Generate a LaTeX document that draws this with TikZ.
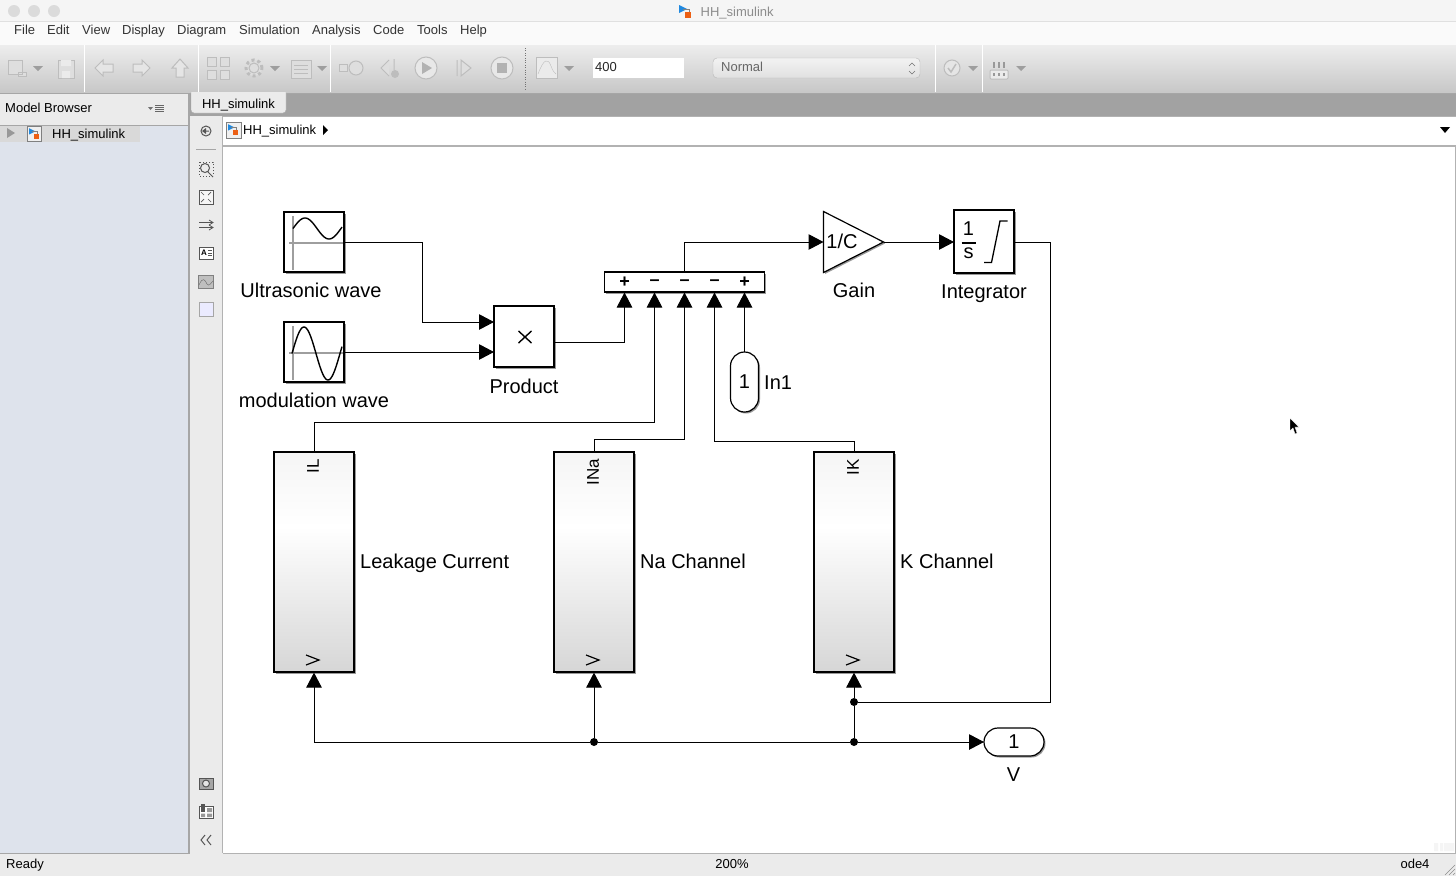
\documentclass[tikz,border=0pt]{standalone}
\usepackage{fontspec}
\setmainfont{Liberation Sans}
\usetikzlibrary{arrows.meta,shadows,shapes.geometric}
\definecolor{barline}{HTML}{A6A6A6}
\definecolor{paneface}{HTML}{EBEBEB}
\definecolor{treeface}{HTML}{DEE3EC}
\definecolor{tabstrip}{HTML}{A2A2A2}
\definecolor{iconline}{HTML}{BDBDBD}
\definecolor{iconface}{HTML}{DEDEDE}
\definecolor{palette}{HTML}{555555}
\pgfdeclareverticalshading{blockfade}{100bp}{rgb(0bp)=(.84,.84,.84); rgb(25bp)=(.84,.84,.84); rgb(58bp)=(1,1,1); rgb(75bp)=(.96,.96,.96); rgb(100bp)=(.96,.96,.96)}
\tikzset{
	block/.style={draw,fill=white,line width=1.2pt,inner sep=0pt,outer sep=0pt,drop shadow={shadow xshift=1.5pt,shadow yshift=-1.5pt,opacity=.4,fill=black}},
	subsys/.style={block,shading=blockfade,minimum width=80pt,minimum height=220pt},
	wire/.style={line width=1pt},
	face/.style={font=\fontsize{20pt}{22pt}\selectfont,inner sep=0pt},
	label/.style={face,text height=14.4pt,text depth=4.2pt},
	portname/.style={font=\fontsize{17pt}{19pt}\selectfont,inner sep=0pt,text height=12.5pt,text depth=0pt},
	ui/.style={font=\fontsize{13pt}{15pt}\selectfont,inner sep=0pt,text height=10pt,text depth=3pt},
	dot/.style={circle,fill=black,inner sep=0pt,minimum size=8pt},
	toolicon/.style={draw=iconline,fill=iconface,line width=1pt},
	palicon/.style={draw=palette,line width=1pt},
	modelmark/.pic={
		\fill[blue!45!cyan!75!gray](-5,-6)--(3,-2)--(-5,2)--cycle;
		\draw[gray](-1,-2)-|(5,2);
		\fill[orange!70!red!85!gray](1,1)rectangle(7,7);
	},
}
\begin{document}
\begin{tikzpicture}[x=1pt,y=-1pt,>={Triangle[length=15pt,width=15.5pt]}]
	\useasboundingbox(0,0)rectangle(1456,876);
	% window chrome
	\fill[white](0,0)rectangle(1456,876);
	\fill[black!4](0,0)rectangle(1456,22);
	\draw[black!12](0,21.5)--(1456,21.5);
	\fill[black!2](0,22)rectangle(1456,45);
	\shade[top color=black!7,bottom color=black!22](0,45)rectangle(1456,93);
	\fill[tabstrip](190,94)rectangle(1456,116);
	\draw[barline,line width=1.5pt](0,93.5)--(1456,93.5);
	\foreach \px in {14,34,54}\fill[black!14](\px,11)circle(6pt);
	\pic at (684,11) {modelmark};
	\node(wintitle)[ui,anchor=west,text=black!45]at(700.5,13){HH\_simulink};
	\foreach \px/\menu in {14/File,47/Edit,82/View,122/Display,177/Diagram,239/Simulation,312/Analysis,373/Code,417/Tools,460/Help}
		\node(menu\menu)[ui,anchor=west,text=black!80]at(\px,30.5){\menu};
	% toolbar
	\foreach \px in {84.5,198.5,330.5,935.5,982.5}\draw[white,line width=1pt](\px,45)--(\px,92);
	\draw[black!55,dotted](525.5,48)--(525.5,91);
	\foreach \px in {38,275,322,569,973,1021}\fill[black!38](\px-5,66)--(\px+5,66)--(\px,71)--cycle;
	\draw[toolicon](8,60)rectangle(22,74) (18,72)rectangle(26,76);
	\draw[toolicon](58,60)rectangle(74,78);
	\fill[black!8](61,60)rectangle(71,66) (62,71)rectangle(70,78);
	\draw[toolicon,fill=black!10](95,68)--(103,60)--(103,64)--(113,64)--(113,72)--(103,72)--(103,76)--cycle;
	\draw[toolicon,fill=black!10](150,68)--(142,60)--(142,64)--(133,64)--(133,72)--(142,72)--(142,76)--cycle;
	\draw[toolicon,fill=black!10](180,59)--(188,68)--(184,68)--(184,77)--(176,77)--(176,68)--(172,68)--cycle;
	\foreach \px/\py in {207/57,220/57,207/70,220/70}\draw[toolicon](\px,\py)rectangle(\px+9,\py+9);
	\draw[toolicon,dashed,line width=3pt](254,68)circle(8pt);
	\draw[toolicon](254,68)circle(5pt);
	\draw[toolicon](291,60)rectangle(311,78);
	\foreach \py in {65,69,73}\draw[iconline](294,\py)--(308,\py);
	\draw[toolicon](339,64)rectangle(347,71);
	\draw[toolicon](356,68)circle(7pt);
	\draw[toolicon](389,60)--(381,68)--(389,76) (394,59)--(394,70);
	\fill[iconline](395,74)circle(4pt);
	\draw[toolicon,fill=black!9](426,68)circle(11pt);
	\fill[black!30](422,62)--(432,68)--(422,74)--cycle;
	\draw[toolicon](457,60)--(457,76) (461,60)--(471,68)--(461,76)--cycle;
	\draw[toolicon,fill=black!9](502,68)circle(11pt);
	\fill[black!30](497,63)rectangle(507,73);
	\draw[toolicon,fill=black!8](536,57)rectangle(557,78);
	\draw[iconline](538,74)..controls(544,58)and(548,58)..(551,66)..controls(553,71)..(556,74);
	\node(stoptime)[ui,anchor=west,fill=white,text width=89pt,inner xsep=1pt,minimum height=20pt,text=black!85]at(593,68){\hspace{1pt}400};
	\draw[black!28,rounded corners=4pt,top color=black!5,bottom color=black!12](713,58)rectangle(920,78);
	\node(simmode)[ui,anchor=west,text=black!60]at(721,68){Normal};
	\draw[black!55](909,66)--(912,63)--(915,66) (909,71)--(912,74)--(915,71);
	\draw[toolicon,fill=black!10](952,68)circle(8pt);
	\draw[iconline,line width=1.5pt](948,68)--(951,72)--(956,64);
	\draw[toolicon,fill=black!8,rounded corners=1pt](990,70)rectangle(1008,79);
	\foreach \px in {994,999,1004}{\fill[black!40](\px-.8,62)rectangle(\px+.8,68);\fill[black!40](\px-1,73)rectangle(\px+1,76);}
	% browser pane
	\fill[paneface](0,94)rectangle(190,125);
	\fill[treeface](0,125)rectangle(190,853);
	\fill[black!15](0,126)rectangle(140,142);
	\draw[barline](0,125)--(190,125);
	\draw[barline,line width=2pt](189,94)--(189,853);
	\node(browser)[ui,anchor=west]at(5,108.5){Model Browser};
	\fill[black!55](148,107)--(153,107)--(150.5,110)--cycle;
	\foreach \py in {105,107,109,111}\draw[black!60,line width=.7pt](155,\py)--(164,\py);
	\fill[black!40](7,128)--(15,133)--(7,138)--cycle;
	\draw[black!50,fill=black!6](27,126.5)rectangle(41,141.5);
	\pic at (33,133) [scale=.8] {modelmark};
	\node(treeroot)[ui,anchor=west]at(52,134.5){HH\_simulink};
	% tab and address bar
	\draw[barline,fill=paneface,rounded corners=3pt](191,92)--(191,113)--(286,113)--(286,92);
	\node(tabname)[ui,anchor=center]at(238.5,104.8){HH\_simulink};
	\fill[paneface](190,116)rectangle(223,853);
	\draw[black!30](222.5,116)--(222.5,853);
	\draw[black!30,line width=1.5pt](223,146)--(1456,146);
	\draw[black!30](223,116)--(1456,116);
	\draw[black!50,fill=black!6](226,122)rectangle(241,138);
	\pic at (232,129) [scale=.8] {modelmark};
	\node(crumb)[ui,anchor=west]at(243,130.8){HH\_simulink};
	\fill[black](323,125)--(328,130)--(323,135)--cycle;
	\fill[black](1440,127)--(1450,127)--(1445,133)--cycle;
	% palette
	\draw[palicon](206,131)circle(5pt) (209,131)--(204,131);
	\fill[palette](202,131)--(206,128)--(206,134)--cycle;
	\draw[black!35](196,149.5)--(216,149.5);
	\draw[palicon,dotted,line width=.7pt](199,162)rectangle(213,176);
	\draw[palicon](205,168)circle(4.5pt) (208,172)--(213,177);
	\draw[palicon,fill=black!4](199,190)rectangle(213,204);
	\draw[palicon,line width=.7pt](201,192)--(204,195) (211,192)--(208,195) (201,202)--(204,199) (211,202)--(208,199);
	\draw[palicon](199,222.5)--(212,222.5) (199,227.5)--(212,227.5);
	\draw[palicon,line width=.8pt](209,220)--(213,222.5)--(209,225) (209,225)--(213,227.5)--(209,230);
	\draw[palicon,fill=white](199,247)rectangle(213,259);
	\node(palA)[inner sep=0pt,font=\bfseries\fontsize{8pt}{8pt}\selectfont]at(204,253){A};
	\draw[palicon,line width=.6pt](208,250.5)--(212,250.5) (208,253)--(212,253) (208,255.5)--(212,255.5);
	\draw[black!50,fill=black!25,line width=1pt](198.5,275)rectangle(213.5,288);
	\draw[black!60](199,285)..controls(203,276)and(205,280)..(207,284)..controls(209,287)and(211,283)..(213,281);
	\draw[black!35,fill=blue!8,line width=1pt](199.5,302.5)rectangle(213,316);
	\draw[palicon,fill=black!35](199,778)rectangle(213,789);
	\draw[palicon,fill=black!10](206,783.5)circle(3.5pt);
	\draw[palicon,fill=white](199,806)rectangle(213,818);
	\fill[palette](201,804)rectangle(205,812);
	\fill[black!40](207,808)rectangle(212,812) (201,813.5)rectangle(205,817) (207,813.5)rectangle(212,817);
	\draw[palicon](205,835)--(201,840)--(205,845) (211,835)--(207,840)--(211,845);
	% status bar
	\fill[paneface](0,853)rectangle(1456,876);
	\draw[black!30](223,853)--(1456,853);
	\draw[black!30,line width=1.5pt](1455.5,147)--(1455.5,853);
	\draw[barline](0,853)--(190,853);
	\node(statusL)[ui,anchor=west]at(6,864.5){Ready};
	\node(statusM)[ui]at(732,864.5){200\%};
	\node(statusR)[ui]at(1415,864.5){ode4};
	\draw[black!45,line width=.6pt](1445,875)--(1455,865) (1449,875)--(1455,869) (1453,875)--(1455,873);
	\fill[black!4](1434,843)rectangle(1438,851) (1440,843)rectangle(1443,851) (1444,843)rectangle(1454,851);
	% blocks
	\node(ultra)[block,minimum width=60pt,minimum height=60pt]at(314,242){};
	\node(modul)[block,minimum width=60pt,minimum height=60pt]at(314,352){};
	\node(prod)[block,minimum width=60pt,minimum height=61pt]at(524,336.5){};
	\node(sum)[block,minimum width=160pt,minimum height=20pt]at(684.5,282){};
	\node(gain)[block,isosceles triangle,isosceles triangle stretches,minimum width=61pt,minimum height=60pt,anchor=lower side]at(823.5,242){};
	\node(integ)[block,minimum width=60pt,minimum height=63pt]at(984,241.5){};
	\node(inone)[block,rounded corners=14pt,minimum width=28pt,minimum height=60pt,font=\fontsize{20pt}{22pt}\selectfont]at(744.5,382){1};
	\node(vout)[block,rounded corners=14pt,minimum width=60pt,minimum height=28pt,font=\fontsize{20pt}{22pt}\selectfont]at(1014,742){1};
	\node(leak)[subsys]at(314,562){};
	\node(nach)[subsys]at(594,562){};
	\node(kch)[subsys]at(854,562){};
	% block faces
	\draw[black!38,line width=1.2pt](293,216)--(293,270) (289,243)--(343,243) (293,326)--(293,380) (289,353)--(343,353);
	\draw[line width=1.4pt,smooth,samples=40,domain=0:49]plot({293+\x},{228.5-10.5*sin(7.5*\x)});
	\draw[line width=1.4pt,smooth,samples=50,domain=0:50]plot({292+\x},{353.5-26.5*sin(7.5*\x)});
	\draw[line width=1.4pt](518.5,331)--(531.5,343) (531.5,331)--(518.5,343);
	\node(gaintext)[face]at(842,241.5){1/C};
	\node(integA)[face]at(968.5,228.5){1};
	\node(integB)[face]at(968.5,253){s};
	\draw[line width=1.2pt](961.5,243)--(976,243);
	\draw[line width=1.3pt](984,262.5)--(991.5,262.5)--(1000,221)--(1007.5,221);
	\foreach \px/\sgn/\nm in {624.5/+/a,654.5/--/b,684.5/--/c,714.5/--/d,744.5/+/e}
		\node(sign\nm)[inner sep=0pt,font=\bfseries\fontsize{18pt}{18pt}\selectfont]at(\px,282.5){\sgn};
	\node(ilname)[portname,rotate=90,anchor=east]at(312.7,459){IL};
	\node(inaname)[portname,rotate=90,anchor=east]at(592.7,459){INa};
	\node(ikname)[portname,rotate=90,anchor=east]at(852.7,459){IK};
	\foreach \blk/\px in {leak/312.5,nach/592.5,kch/852.5}
		\draw[line width=1.2pt](\px-6.5,655)--(\px+6.5,660)--(\px-6.5,665);
	% labels
	\node(ultraname)[label]at(311,292){Ultrasonic wave};
	\node(modulname)[label]at(314,402){modulation wave};
	\node(prodname)[label]at(524,388){Product};
	\node(gainname)[label]at(854,292){Gain};
	\node(integname)[label]at(984,293.5){Integrator};
	\node(inonename)[label,anchor=west]at(764,384){In1};
	\node(vname)[label]at(1013.5,776){V};
	\node(leakname)[label,anchor=west]at(360,563.4){Leakage Current};
	\node(naname)[label,anchor=west]at(640,563.4){Na Channel};
	\node(kname)[label,anchor=west]at(900,563.4){K Channel};
	% ports and junctions
	\coordinate(prodA)at(prod.west|-0,322);
	\coordinate(prodB)at(prod.west|-0,352);
	\coordinate(prodO)at(prod.east|-0,342);
	\foreach \px/\nm in {624.5/a,654.5/b,684.5/c,714.5/d,744.5/e}\coordinate(in\nm)at(\px,292.5);
	\node(juncA)[dot]at(594,742){};
	\node(juncB)[dot]at(854,742){};
	\node(juncC)[dot]at(854,702){};
	% wires
	\draw[wire,->](ultra.east)--(422,242)|-(prodA);
	\draw[wire,->](modul.east|-0,352)--(prodB);
	\draw[wire,->](prodO)-|(ina);
	\draw[wire,->](leak.north)--(314,422)-|(inb);
	\draw[wire,->](nach.north)--(594,439)-|(inc);
	\draw[wire,->](kch.north)--(854,441)-|(ind);
	\draw[wire,->](inone.north)--(ine);
	\draw[wire,->](sum.north)--(684.5,242)--(gain.lower side);
	\draw[wire,->](gain.apex)--(integ.west|-0,242);
	\draw[wire](integ.east|-0,242)--(1050.5,242)--(1050.5,702)--(juncC);
	\draw[wire,->,shorten >=.6pt](juncB)--(juncC)--(kch.south);
	\draw[wire,->,shorten >=.6pt](juncA)--(nach.south);
	\draw[wire,->,shorten >=.6pt](juncA)--(314,742)--(leak.south);
	\draw[wire](juncA)--(juncB);
	\draw[wire,->](juncB)--(vout.west);
	% pointer
	\draw[white,fill=black,line width=.4pt](1290,418)--(1290,431)--(1293,428)--(1295,434)--(1297,433)--(1295,427)--(1299,427)--cycle;
\end{tikzpicture}
\end{document}
